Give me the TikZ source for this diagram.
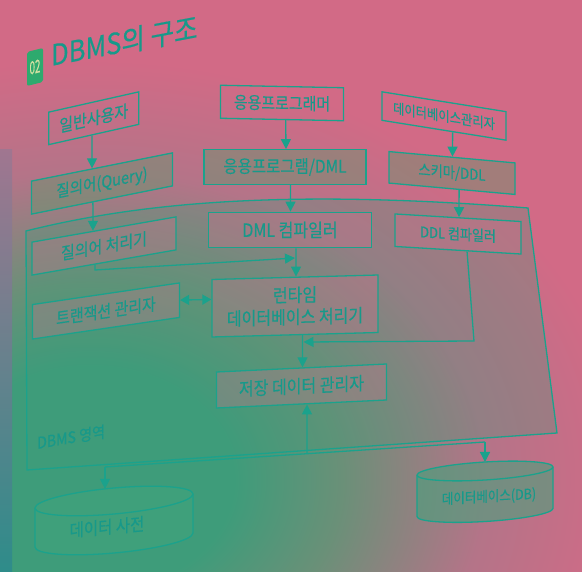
\documentclass[tikz,border=0pt]{standalone}
\usepackage{fontspec}
\usepackage{graphicx}
\newfontfamily\kr[FakeStretch=0.88,FakeBold=0.3]{Noto Sans CJK KR}
\usetikzlibrary{arrows.meta,calc}
\definecolor{bgpink}{HTML}{D26A86}
\definecolor{bgmauve}{HTML}{B47488}
\definecolor{bgmid}{HTML}{6A9078}
\definecolor{bggreen}{HTML}{3E9C7A}
\definecolor{linecol}{HTML}{1BA28C}
\definecolor{textcol}{HTML}{17998A}
\definecolor{badgecol}{HTML}{2EAA6E}
\definecolor{badgetext}{HTML}{D2E0A2}
\definecolor{stripcol}{HTML}{2E8C8A}
\definecolor{stripmid}{HTML}{4A8296}
\definecolor{striptop}{HTML}{A07690}
\definecolor{olivefill}{HTML}{5A9A6A}
\definecolor{pinkfill}{HTML}{D8708E}
\definecolor{cylgreen}{HTML}{40A47C}
\pgfdeclareradialshading{bgblob}{\pgfpointorigin}{color(0bp)=(bggreen); color(4bp)=(bggreen); color(7bp)=(bgmid); color(11bp)=(bgmauve); color(15bp)=(bgpink); color(50bp)=(bgpink)}
\newcommand\fsz[1]{\kr\fontsize{#1}{#1}\selectfont}
\tikzset{
  box/.style={draw=linecol, line width=1.3pt, inner sep=0pt, text=textcol, align=center, text opacity=1},
  greenbox/.style={box, fill=olivefill, fill opacity=0.4},
  pinkbox/.style={box, fill=pinkfill, fill opacity=0.3},
  arr/.style={draw=linecol, line width=1.3pt, -{Triangle[length=10pt,width=10pt]}},
  dblarr/.style={draw=linecol, line width=1.3pt, {Triangle[length=9pt,width=10pt]}-{Triangle[length=9pt,width=10pt]}},
  conn/.style={draw=linecol, line width=1.3pt},
  cylbody/.style={fill=cylgreen, fill opacity=0.55, draw=linecol, line width=1.3pt},
  cylline/.style={draw=linecol, line width=1.3pt},
  cyltext/.style={inner sep=0pt, text=textcol},
  badge/.style={fill=badgecol, rounded corners=2pt, minimum width=16pt, minimum height=34pt, inner sep=0pt, text=badgetext, font=\fsz{18}},
  region/.style={draw=linecol, line width=1.3pt, fill=bggreen, fill opacity=0.28}
}
\begin{document}
\begin{tikzpicture}[x=1pt,y=-1pt]
\useasboundingbox (0,0) rectangle (582,572);
% background
\begin{scope}
\clip (0,0) rectangle (582,572);
\fill[bgpink] (0,0) rectangle (582,572);
\shade[shading=bgblob] (90,480) ellipse (900 and 700);
\shade[top color=striptop, middle color=stripmid, bottom color=stripcol] (0,150) rectangle (12,572);
\end{scope}

% title
\node[badge, yslant=0.25] (badge) at (35,67) {\scalebox{0.62}[1]{02}};
\node[anchor=base west, yslant=0.19, text=textcol, inner sep=0pt, font=\fsz{29}] (title) at (51,66) {DBMS의 구조};

% DBMS region
\path[region] (26,231) .. controls (150,200) and (300,190) .. (528,208) -- (557,433) -- (27,470) -- cycle;
\node[anchor=base west, yslant=0.17, text=textcol, inner sep=0pt, font=\fsz{16}] (area) at (37,449) {DBMS 영역};

% top row
\node[box, minimum width=90pt, minimum height=32.5pt, yslant=0.225, font=\fsz{17}] (u1) at (93.75,118.25) {일반사용자};
\node[box, minimum width=123pt, minimum height=33pt, yslant=-0.02, font=\fsz{17}] (u2) at (282,103) {응용프로그래머};
\node[box, minimum width=124pt, minimum height=28.5pt, yslant=-0.16, font=\fsz{14}] (u3) at (444,116) {데이터베이스관리자};

% second row
\node[greenbox, minimum width=141pt, minimum height=33pt, yslant=0.2, font=\fsz{16.5}] (q1) at (102,183.5) {질의어(Query)};
\node[greenbox, minimum width=162pt, minimum height=34.5pt, font=\fsz{17.6}] (q2) at (285,167) {응용프로그램/DML};
\node[greenbox, minimum width=126pt, minimum height=31.5pt, yslant=-0.09, font=\fsz{15}] (q3) at (452,173) {스키마/DDL};

% inside region
\node[pinkbox, minimum width=144pt, minimum height=33pt, yslant=0.175, font=\fsz{17}] (p1) at (104,246) {질의어 처리기};
\node[pinkbox, minimum width=163pt, minimum height=35.5pt, font=\fsz{18.2}] (p2) at (290,230) {DML 컴파일러};
\node[pinkbox, minimum width=126pt, minimum height=32.5pt, yslant=-0.06, font=\fsz{14.8}] (p3) at (458,234) {DDL 컴파일러};
\node[pinkbox, minimum width=147pt, minimum height=34.5pt, yslant=0.147, font=\fsz{17}] (t) at (106,311) {트랜잭션 관리자};
\node[pinkbox, minimum width=166pt, minimum height=57.5pt, yslant=0.027, font=\kr\fontsize{18.2}{22}\selectfont] (r) at (295,306) {런타임\\데이터베이스 처리기};
\node[pinkbox, minimum width=170pt, minimum height=36pt, yslant=0.047, font=\fsz{18.2}] (s) at (301.5,386) {저장 데이터 관리자};

% cylinders
\begin{scope}[shift={(114,520.5)}, yslant=0.089]
  \path[cylbody] (-79,-19.5) -- (-79,19.5) .. controls (-79,26.7) and (-43.6,32.5) .. (0,32.5) .. controls (43.6,32.5) and (79,26.7) .. (79,19.5) -- (79,-19.5) .. controls (79,-26.7) and (43.6,-32.5) .. (0,-32.5) .. controls (-43.6,-32.5) and (-79,-26.7) .. (-79,-19.5) -- cycle;
  \draw[cylline] (-79,-19.5) .. controls (-79,-12.3) and (-43.6,-6.5) .. (0,-6.5) .. controls (43.6,-6.5) and (79,-12.3) .. (79,-19.5);
  \coordinate (dstop) at (-9,-32.4);
\end{scope}
\node[cyltext, yslant=0.089, font=\fsz{17.6}] (ds) at (107,527) {데이터 사전};

\begin{scope}[shift={(485,491.75)}, yslant=0.06]
  \path[cylbody] (-68,-20.75) -- (-68,20.75) .. controls (-68,25.72) and (-37.56,29.75) .. (0,29.75) .. controls (37.56,29.75) and (68,25.72) .. (68,20.75) -- (68,-20.75) .. controls (68,-25.72) and (37.56,-29.75) .. (0,-29.75) .. controls (-37.56,-29.75) and (-68,-25.72) .. (-68,-20.75) -- cycle;
  \draw[cylline] (-68,-20.75) .. controls (-68,-15.78) and (-37.56,-11.75) .. (0,-11.75) .. controls (37.56,-11.75) and (68,-15.78) .. (68,-20.75);
  \coordinate (dbtop) at (0,-29.75);
\end{scope}
\node[cyltext, yslant=0.06, font=\fsz{14.2}] (db) at (489,497) {데이터베이스(DB)};

% connectors
\draw[arr] ($(u1.south west)!0.48!(u1.south east)$) -- ($(q1.north west)!0.43!(q1.north east)$);
\draw[arr] ($(q1.south west)!0.436!(q1.south east)$) -- ($(p1.north west)!0.424!(p1.north east)$);
\draw[arr] ($(u2.south west)!0.53!(u2.south east)$) -- ($(q2.north west)!0.506!(q2.north east)$);
\draw[arr] ($(q2.south west)!0.534!(q2.south east)$) -- ($(p2.north west)!0.503!(p2.north east)$);
\draw[arr] ($(u3.south west)!0.569!(u3.south east)$) -- ($(q3.north west)!0.504!(q3.north east)$);
\draw[arr] ($(q3.south west)!0.556!(q3.south east)$) -- ($(p3.north west)!0.508!(p3.north east)$);
\draw[arr] ($(p2.south west)!0.537!(p2.south east)$) -- ($(r.north west)!0.506!(r.north east)$);
\draw[arr] ($(r.south west)!0.545!(r.south east)$) -- ($(s.north west)!0.506!(s.north east)$);

\coordinate (qbend) at (95,270);
\coordinate (qjoin) at (295,258);
\draw[arr] ($(p1.south west)!0.4375!(p1.south east)$) -- (qbend) -- (qjoin);

\coordinate (dbend) at (474,341);
\coordinate (djoin) at (303.5,342);
\draw[arr] ($(p3.south west)!0.571!(p3.south east)$) -- (dbend) -- (djoin);

\draw[dblarr] (t.east) -- ($(r.north west)!0.35!(r.south west)$);

\coordinate (cl) at (105,467);
\coordinate (cr) at (485,442);
\coordinate (cj) at (307,453.7);
\draw[conn] (cl) -- (cr);
\draw[arr] (cl) -- (dstop);
\draw[arr] (cr) -- (dbtop);
\draw[arr] (cj) -- ($(s.south west)!0.532!(s.south east)$);
\end{tikzpicture}
\end{document}
